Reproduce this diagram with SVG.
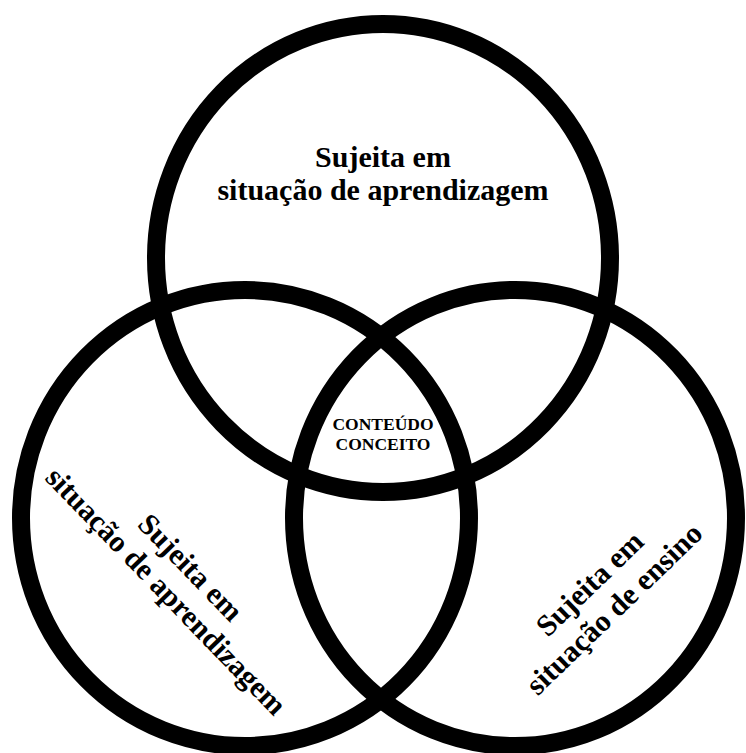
<svg xmlns="http://www.w3.org/2000/svg" width="746" height="753" viewBox="0 0 746 753">
<style>
.ring{fill:none;stroke:#000;stroke-width:18}
.lbl{font-family:"Liberation Serif","Times New Roman",serif;font-weight:bold;fill:#000;text-anchor:middle}
.big{font-size:30px}
.small{font-size:17.5px}
</style>
<rect width="746" height="753" fill="#fff"/>
<g id="connectors"></g>
<g id="top">
<ellipse class="ring" cx="383" cy="258" rx="227" ry="234"/>
<text class="lbl big" x="383" y="167">Sujeita em</text>
<text class="lbl big" x="383" y="200">situação de aprendizagem</text>
</g>
<g id="left">
<ellipse class="ring" cx="245" cy="518" rx="224" ry="228"/>
<g transform="translate(159,598) rotate(46)">
<text class="lbl big" x="0" y="-34">Sujeita em</text>
<text class="lbl big" x="0" y="0">situação de aprendizagem</text>
</g>
</g>
<g id="right">
<ellipse class="ring" cx="515" cy="518" rx="221" ry="228"/>
<g transform="translate(621,616) rotate(-44)">
<text class="lbl big" x="0" y="-35">Sujeita em</text>
<text class="lbl big" x="0" y="0">situação de ensino</text>
</g>
</g>
<g id="center">
<text class="lbl small" x="383" y="430">CONTEÚDO</text>
<text class="lbl small" x="383" y="450">CONCEITO</text>
</g>
</svg>
